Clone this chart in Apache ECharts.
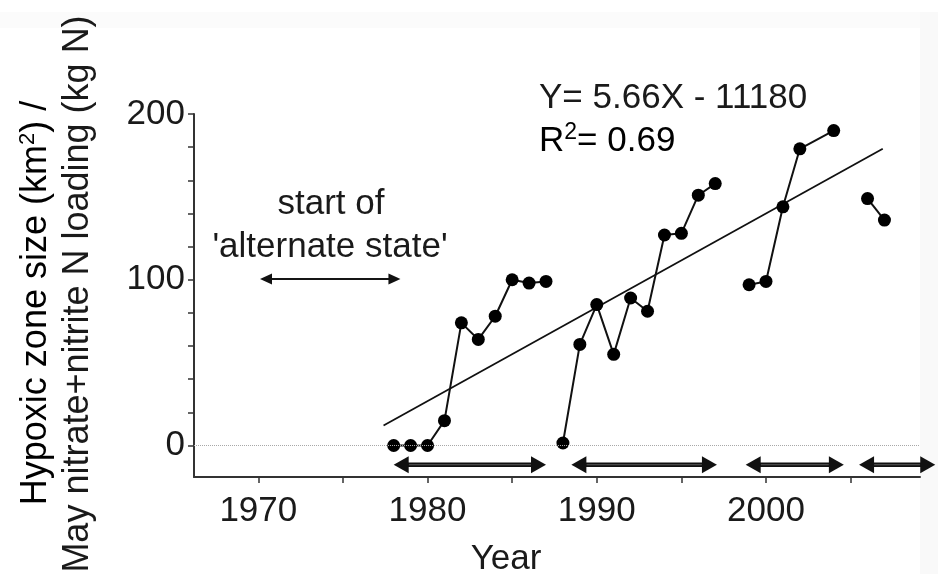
<!DOCTYPE html>
<html>
<head>
<meta charset="utf-8">
<title>Hypoxic zone size vs. year</title>
<script src="https://cdn.jsdelivr.net/npm/echarts@6/dist/echarts.min.js"></script>
<style>
  html, body { margin: 0; padding: 0; background: #ffffff; }
  #chart { width: 938px; height: 574px; }
</style>
</head>
<body>
<div id="chart"></div>
<script>
// Annual observations (year, hypoxic zone size / N loading ratio)
const years = [1978, 1979, 1980, 1981, 1982, 1983, 1984, 1985, 1986, 1987,
               1988, 1989, 1990, 1991, 1992, 1993, 1994, 1995, 1996, 1997,
               1999, 2000, 2001, 2002, 2004,
               2006, 2007];
const ratioValues = [0, 0, 0, 15, 74, 64, 78, 100, 98, 99,
                     1.5, 61, 85, 55, 89, 81, 127, 128, 151, 158,
                     97, 99, 144, 179, 190,
                     149, 136];
// the connecting line is broken after these years
const segmentEnds = [1987, 1997, 2004];

// axis ticks and labels
const xTicks = [1970, 1975, 1980, 1985, 1990, 1995, 2000, 2005];
const xTickLabels = [1970, 1980, 1990, 2000];
const yTicks = [0, 20, 40, 60, 80, 100, 120, 140, 160, 180, 200];
const yTickLabels = [0, 100, 200];

// linear fit Y = slope * X + intercept
const fitSlope = 5.66;
const fitIntercept = -11180;
const fitRSquared = 0.69;
const fitYears = [1977.4, 2006.9];

// double-headed period arrows under the data and the 'alternate state' arrow
const periodArrows = [[1978.0, 1987.0], [1988.5, 1997.1], [1998.8, 2004.6], [2005.5, 2010.0]];
const periodArrowLevel = -11.6;
const stateArrow = [1970.1, 1978.4];
const stateArrowLevel = 100.5;

const FONT = '"Liberation Sans", Arial, Helvetica, sans-serif';
const INK = '#1a1a1a';

// split observations into connected runs
const segments = [];
let run = [];
years.forEach((yr, i) => {
  run.push([yr, ratioValues[i]]);
  if (segmentEnds.includes(yr)) { segments.push(run); run = []; }
});
if (run.length) segments.push(run);

const fitLine = fitYears.map(x => [x, fitSlope * x + fitIntercept]);

const arrowData = periodArrows.map(([a, b]) => [a, b, periodArrowLevel, 1])
  .concat([[stateArrow[0], stateArrow[1], stateArrowLevel, 0]]);

function renderArrow(params, api) {
  const x1 = api.value(0), x2 = api.value(1), lv = api.value(2);
  const heavy = api.value(3) === 1;
  const p1 = api.coord([x1, lv]);
  const p2 = api.coord([x2, lv]);
  const headLen = heavy ? 15 : 12;
  const headHalf = heavy ? 8.5 : 5.5;
  const y = p1[1];
  const children = [];
  if (heavy) {
    children.push({
      type: 'line',
      shape: { x1: p1[0] + headLen - 2, y1: y, x2: p2[0] - headLen + 2, y2: y },
      style: { stroke: '#111', lineWidth: 4.5 }
    });
    children.push({
      type: 'line',
      shape: { x1: p1[0] + headLen, y1: y, x2: p2[0] - headLen, y2: y },
      style: { stroke: '#5a5a5a', lineWidth: 1 }
    });
  } else {
    children.push({
      type: 'line',
      shape: { x1: p1[0] + headLen - 2, y1: y, x2: p2[0] - headLen + 2, y2: y },
      style: { stroke: '#151515', lineWidth: 2 }
    });
  }
  children.push({
    type: 'polygon',
    shape: { points: [[p1[0], y], [p1[0] + headLen, y - headHalf], [p1[0] + headLen, y + headHalf]] },
    style: { fill: '#111' }
  });
  children.push({
    type: 'polygon',
    shape: { points: [[p2[0], y], [p2[0] - headLen, y - headHalf], [p2[0] - headLen, y + headHalf]] },
    style: { fill: '#111' }
  });
  return { type: 'group', children: children };
}

const dataSeries = segments.map(seg => ({
  type: 'line',
  data: seg,
  symbol: 'circle',
  symbolSize: 13,
  itemStyle: { color: '#000' },
  lineStyle: { color: '#111', width: 2 },
  z: 4,
  animation: false
}));

const chart = echarts.init(document.getElementById('chart'), null, { renderer: 'canvas' });

chart.setOption({
  backgroundColor: '#ffffff',
  animation: false,
  grid: { left: 194, right: 18, top: 114, bottom: 97, containLabel: false },
  xAxis: {
    type: 'value',
    min: 1966.2,
    max: 2009.1,
    splitLine: { show: false },
    axisLine: { show: true, onZero: false, lineStyle: { color: '#333', width: 2 } },
    axisTick: { show: true, customValues: xTicks, length: 6, lineStyle: { color: '#333', width: 1.5 } },
    axisLabel: {
      customValues: xTickLabels,
      margin: 17,
      fontSize: 35,
      fontFamily: FONT,
      color: INK,
      formatter: v => String(v)
    }
  },
  yAxis: {
    type: 'value',
    min: -19,
    max: 200,
    splitLine: { show: false },
    axisLine: { show: true, onZero: false, lineStyle: { color: '#333', width: 2 } },
    axisTick: { show: true, customValues: yTicks, length: 6, lineStyle: { color: '#333', width: 1.5 } },
    axisLabel: {
      customValues: yTickLabels,
      margin: 9,
      fontSize: 35,
      fontFamily: FONT,
      color: INK,
      padding: [8, 0, 0, 0],
      formatter: v => String(v)
    }
  },
  series: [
    {
      type: 'line',
      data: fitLine,
      symbol: 'none',
      lineStyle: { color: '#111', width: 1.8 },
      z: 2,
      markLine: {
        silent: true,
        symbol: ['none', 'none'],
        label: { show: false },
        lineStyle: { color: '#a8a8a8', width: 1, type: 'dotted' },
        data: [{ yAxis: 0 }],
        animation: false
      }
    },
    ...dataSeries,
    {
      type: 'custom',
      renderItem: renderArrow,
      data: arrowData,
      dimensions: ['from', 'to', 'level', 'heavy'],
      encode: { x: [0, 1], y: 2 },
      clip: false,
      z: 3,
      silent: true
    }
  ],
  graphic: [
    // faint page border bands
    { type: 'rect', z: -10, silent: true, shape: { x: 0, y: 12, width: 938, height: 16 }, style: { fill: '#fbfbfb' } },
    { type: 'rect', z: -10, silent: true, shape: { x: 920, y: 12, width: 18, height: 562 }, style: { fill: '#f9f9f9' } },
    // regression equation
    {
      type: 'text', x: 539, y: 98, silent: true,
      style: {
        text: 'Y= ' + fitSlope + 'X - ' + (-fitIntercept),
        font: '35px ' + FONT, fill: INK, align: 'left', verticalAlign: 'middle'
      }
    },
    {
      type: 'text', x: 539, y: 141, silent: true,
      style: {
        text: '{n|R}{s|2}{n|= ' + fitRSquared + '}',
        align: 'left', verticalAlign: 'middle',
        rich: {
          n: { fontSize: 35, fontFamily: FONT, color: INK, lineHeight: 40 },
          s: { fontSize: 23, fontFamily: FONT, color: INK, lineHeight: 25, verticalAlign: 'top' }
        }
      }
    },
    // annotation
    {
      type: 'text', x: 331, y: 204, silent: true,
      style: { text: 'start of', font: '35px ' + FONT, fill: INK, align: 'center', verticalAlign: 'middle' }
    },
    {
      type: 'text', x: 330, y: 247, silent: true,
      style: { text: "'alternate state'", font: '35px ' + FONT, fill: INK, align: 'center', verticalAlign: 'middle' }
    },
    // axis titles
    {
      type: 'text', x: 506, y: 559, silent: true,
      style: { text: 'Year', font: '35px ' + FONT, fill: INK, align: 'center', verticalAlign: 'middle' }
    },
    {
      type: 'text', x: 36.5, y: 303, rotation: Math.PI / 2, silent: true,
      style: {
        text: '{n|Hypoxic zone size (km}{s|2}{n|) /}',
        align: 'center', verticalAlign: 'middle',
        rich: {
          n: { fontSize: 36, fontFamily: FONT, color: INK, lineHeight: 40 },
          s: { fontSize: 22, fontFamily: FONT, color: INK, lineHeight: 34, verticalAlign: 'top' }
        }
      }
    },
    {
      type: 'text', x: 78.5, y: 294, rotation: Math.PI / 2, silent: true,
      style: {
        text: 'May nitrate+nitrite N loading (kg N)',
        font: '36px ' + FONT, fill: INK, align: 'center', verticalAlign: 'middle'
      }
    }
  ]
});
</script>
</body>
</html>
